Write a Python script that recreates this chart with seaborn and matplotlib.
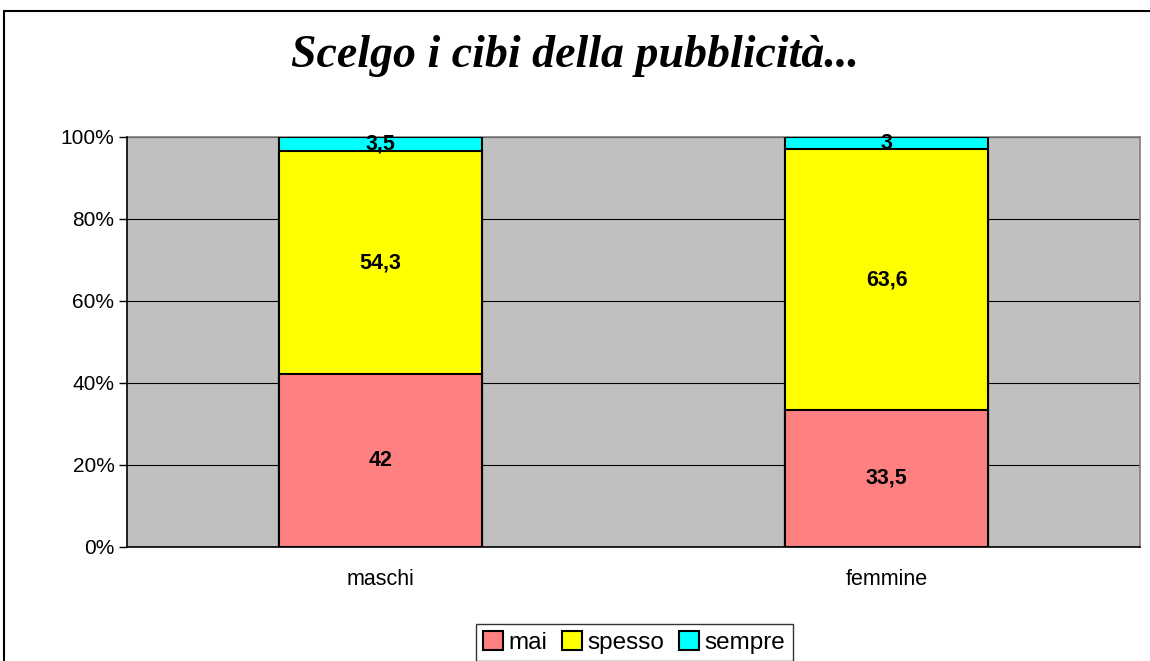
import numpy as np
import pandas as pd
import matplotlib
matplotlib.use("Agg")
import matplotlib.pyplot as plt
import seaborn as sns
from matplotlib.patches import Rectangle, Patch

# data
groups = ["maschi", "femmine"]
series = ["mai", "spesso", "sempre"]
mai = [42.0, 33.5]
spesso = [54.3, 63.6]
sempre = [3.5, 3.0]
colors = {"mai": "#FF8080", "spesso": "#FFFF00", "sempre": "#00FFFF"}

sns.set_style("white")
plt.rcParams["font.family"] = ["Liberation Sans", "DejaVu Sans"]
plt.rcParams["text.color"] = "black"
plt.rcParams["xtick.color"] = "black"
plt.rcParams["ytick.color"] = "black"

vals = np.array([mai, spesso, sempre])
pct = vals / vals.sum(axis=0) * 100
cum = np.cumsum(pct, axis=0)

fig = plt.figure(figsize=(11.5, 6.61), dpi=100)
ax = fig.add_axes([0.1104, 0.1725, 0.8809, 0.6203])
ax.set_facecolor("#C0C0C0")

# draw stacked bars from the top down so lower segments cover upper ones
for i in reversed(range(len(series))):
    df = pd.DataFrame({"group": groups, "top": cum[i]})
    sns.barplot(data=df, x="group", y="top", color=colors[series[i]],
                saturation=1, width=0.4, edgecolor="black", linewidth=1.5,
                ax=ax, zorder=3)

# segment labels
for j in range(len(groups)):
    for i in range(len(series)):
        mid = cum[i, j] - pct[i, j] / 2
        txt = f"{vals[i, j]:g}".replace(".", ",")
        ax.text(j, mid, txt, ha="center", va="center", fontsize=15.5,
                fontweight="bold", color="black", zorder=5)

ax.set_xlim(-0.5, 1.5)
ax.set_ylim(0, 100)
ax.set_yticks(np.arange(0, 101, 20))
ax.set_yticklabels([f"{t}%" for t in range(0, 101, 20)], fontsize=15)
ax.set_xticks(range(len(groups)))
ax.set_xticklabels(groups, fontsize=15.5)
ax.set_xticks([-0.5, 0.5, 1.5], minor=True)
ax.tick_params(axis="x", which="major", length=0, pad=16)
ax.tick_params(axis="x", which="minor", length=6, width=1, color="black", direction="out")
ax.tick_params(axis="y", length=6, width=1, color="black", direction="out", pad=3, left=True)
ax.set_xlabel("")
ax.set_ylabel("")
ax.yaxis.grid(True, color="black", linewidth=0.8, zorder=0)
ax.set_axisbelow(True)
for s in ["top", "right"]:
    ax.spines[s].set_color("#808080")
    ax.spines[s].set_linewidth(1.2)
for s in ["left", "bottom"]:
    ax.spines[s].set_color("black")
    ax.spines[s].set_linewidth(1.2)
    ax.spines[s].set_zorder(6)

fig.text(0.5, 0.915, "Scelgo i cibi della pubblicità...", ha="center", va="center",
         fontsize=33, fontweight="bold", fontstyle="italic", color="black",
         family=["Liberation Serif"])

handles = [Patch(facecolor=colors[s], edgecolor="black", linewidth=1.5, label=s) for s in series]
leg = fig.legend(handles=handles, loc="lower center", bbox_to_anchor=(0.5515, 0.0), ncol=3,
                 frameon=True, fancybox=False, fontsize=17.5, handlelength=0.8,
                 handleheight=0.8, handletextpad=0.25, columnspacing=0.6,
                 borderpad=0.3, borderaxespad=0.0)
leg.get_frame().set_edgecolor("black")
leg.get_frame().set_linewidth(1.0)

# outer chart frame
fig.patches.append(Rectangle((4 / 1150, -0.05), 1.1, 1 - 11 / 661 + 0.05,
                             transform=fig.transFigure, fill=False,
                             edgecolor="black", linewidth=1.5))

fig.savefig("out.png", dpi=100)
